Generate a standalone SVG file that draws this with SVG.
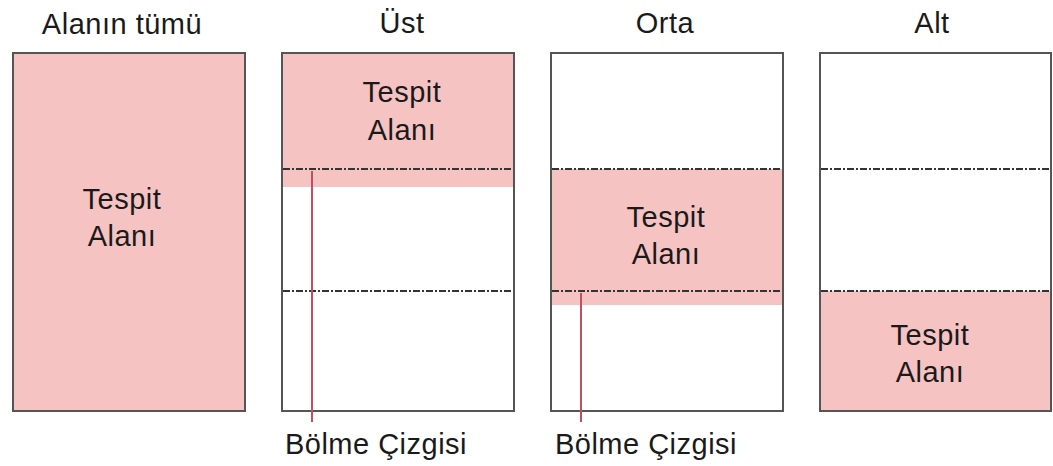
<svg xmlns="http://www.w3.org/2000/svg" width="1053" height="466" viewBox="0 0 1053 466">
<style>
.t{font-family:"Liberation Sans",Arial,sans-serif;font-size:29px;letter-spacing:0.5px;fill:#1a1a1a;text-anchor:middle}
.box{fill:none;stroke:#555;stroke-width:2}
.pink{fill:#f6c3c3}
.dash{stroke:#333;stroke-width:2;stroke-dasharray:7 2 2 2;fill:none}
.red{stroke:#c05060;stroke-width:2;fill:none}
</style>
<rect width="1053" height="466" fill="#fff"/>
<g id="panel-all">
<text class="t" x="122" y="34">Alanın tümü</text>
<rect class="pink" x="13" y="53" width="232" height="358"/>
<rect class="box" x="13" y="53" width="232" height="358"/>
<text class="t" x="122" y="209">Tespit</text>
<text class="t" x="122" y="246">Alanı</text>
</g>
<g id="panel-ust">
<text class="t" x="402" y="33">Üst</text>
<rect class="pink" x="282" y="53" width="232" height="134"/>
<line class="dash" x1="283" y1="169" x2="513" y2="169"/>
<line class="dash" x1="283" y1="291" x2="513" y2="291"/>
<rect class="box" x="282" y="53" width="232" height="358"/>
<text class="t" x="402" y="102">Tespit</text>
<text class="t" x="402" y="140">Alanı</text>
</g>
<g id="panel-orta">
<text class="t" x="665" y="33">Orta</text>
<rect class="pink" x="551" y="169" width="232" height="136"/>
<line class="dash" x1="552" y1="169" x2="782" y2="169"/>
<line class="dash" x1="552" y1="291" x2="782" y2="291"/>
<rect class="box" x="551" y="53" width="232" height="358"/>
<text class="t" x="666" y="227">Tespit</text>
<text class="t" x="666" y="264">Alanı</text>
</g>
<g id="panel-alt">
<text class="t" x="932" y="33">Alt</text>
<rect class="pink" x="820" y="291" width="231" height="120"/>
<line class="dash" x1="821" y1="169" x2="1050" y2="169"/>
<line class="dash" x1="821" y1="291" x2="1050" y2="291"/>
<rect class="box" x="820" y="53" width="231" height="358"/>
<text class="t" x="930" y="345">Tespit</text>
<text class="t" x="930" y="382">Alanı</text>
</g>
<g id="connectors">
<line class="red" x1="312" y1="171" x2="312" y2="422"/>
<line class="red" x1="581" y1="293" x2="581" y2="422"/>
</g>
<g id="labels">
<text class="t" x="376" y="454">Bölme Çizgisi</text>
<text class="t" x="646" y="454">Bölme Çizgisi</text>
</g>
</svg>
